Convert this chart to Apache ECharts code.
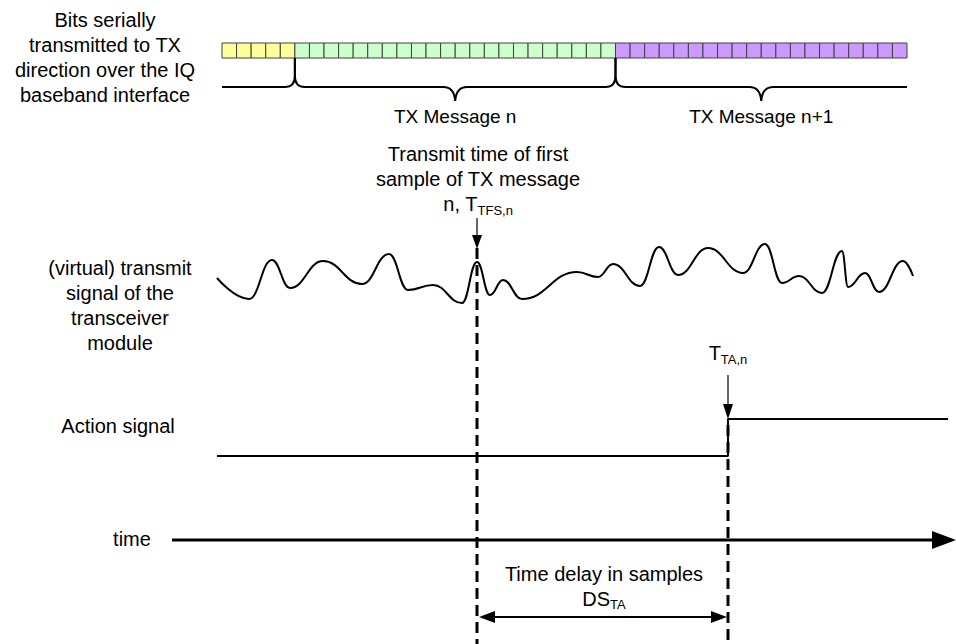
<!DOCTYPE html>
<html>
<head>
<meta charset="utf-8">
<script src="https://cdn.jsdelivr.net/npm/echarts/dist/echarts.min.js"></script>
<style>
html,body{margin:0;padding:0;background:#ffffff;}
#chart{width:956px;height:644px;}
</style>
</head>
<body>
<div id="chart"></div>
<script>
// ---------------- data ----------------
// Bit groups transmitted over the IQ baseband interface
const bitGroupNames = ['', 'TX Message n', 'TX Message n+1'];
const bitCounts = [5, 22, 20];
const bitTrainSpan = [222, 907];          // time span covered by the bit train

// (virtual) transmit signal, sample times and amplitudes
const waveX = [217, 249, 272, 290, 323, 362, 389, 408, 433, 462, 477, 490, 503, 522, 577, 598, 613, 640, 659, 678, 708, 743, 765, 782, 799, 822, 842, 848, 865, 879, 903, 913];
const waveY = [278, 299, 260, 288, 261, 284, 254, 290, 285, 303, 262, 295, 280, 299, 272, 277, 264, 286, 247, 275, 248, 273, 244, 283, 276, 293, 251, 287, 273, 292, 261, 276];

// Action signal (step at T_TA,n)
const actionX = [217, 728, 728, 948];
const actionY = [456, 456, 419, 419];

// Key time instants
const tTFS = 477;   // T_TFS,n
const tTA = 728;    // T_TA,n
const timeAxisSpan = [172, 956];

// ---------------- helpers ----------------
const FONT = '"Liberation Sans", Arial, Helvetica, sans-serif';
const bitColors = ['#FFFF99', '#CCFFCC', '#CC99FF'];

const nBits = bitCounts.reduce((a, b) => a + b, 0);
const cellW = (bitTrainSpan[1] - bitTrainSpan[0]) / nBits;
const bitCells = [];
bitCounts.forEach((n, g) => { for (let k = 0; k < n; k++) bitCells.push([bitTrainSpan[0] + bitCells.length * cellW, g]); });

const groupSpans = [];
let acc = 0;
bitCounts.forEach((n, g) => {
  groupSpans.push([bitTrainSpan[0] + acc * cellW, bitTrainSpan[0] + (acc + n) * cellW, g]);
  acc += n;
});

function arrowSeries(name, rows, opt) {
  return {
    name: name,
    type: 'custom',
    coordinateSystem: 'cartesian2d',
    silent: true,
    z: opt.z || 5,
    data: rows,
    renderItem: function (params, api) {
      const a = api.coord([api.value(0), api.value(1)]);
      const b = api.coord([api.value(2), api.value(3)]);
      const dx = b[0] - a[0], dy = b[1] - a[1];
      const L = Math.sqrt(dx * dx + dy * dy);
      const ux = dx / L, uy = dy / L, nx = -uy, ny = ux;
      const children = [];
      const head = function (tip, dir) {
        const bx = tip[0] - dir[0] * opt.headLen, by = tip[1] - dir[1] * opt.headLen;
        return {
          type: 'polygon',
          shape: { points: [[tip[0], tip[1]], [bx + nx * opt.headHalf, by + ny * opt.headHalf], [bx - nx * opt.headHalf, by - ny * opt.headHalf]] },
          style: { fill: '#000' }
        };
      };
      const s = opt.both ? [a[0] + ux * opt.headLen * 0.8, a[1] + uy * opt.headLen * 0.8] : a;
      const e = [b[0] - ux * opt.headLen * 0.8, b[1] - uy * opt.headLen * 0.8];
      children.push({ type: 'line', shape: { x1: s[0], y1: s[1], x2: e[0], y2: e[1] }, style: { stroke: '#000', lineWidth: opt.width } });
      children.push(head(b, [ux, uy]));
      if (opt.both) children.push(head(a, [-ux, -uy]));
      return { type: 'group', children: children };
    }
  };
}

const chart = echarts.init(document.getElementById('chart'), null, { renderer: 'svg', width: 956, height: 644 });

const textStyle = function (text, x, y, extra) {
  return Object.assign({
    type: 'text', x: x, y: y, silent: true,
    style: Object.assign({
      text: text, fontFamily: FONT, fontSize: 20, fill: '#000',
      align: 'center', verticalAlign: 'middle', lineHeight: 25
    }, extra || {})
  });
};
const subRich = { sub: { fontFamily: FONT, fontSize: 13, fill: '#000', verticalAlign: 'bottom', lineHeight: 21 } };

const option = {
  animation: false,
  backgroundColor: '#ffffff',
  grid: { left: 0, right: 0, top: 0, bottom: 0 },
  xAxis: { type: 'value', min: 0, max: 956, show: false },
  yAxis: { type: 'value', min: 0, max: 644, inverse: true, show: false },
  graphic: [
    textStyle('Bits serially\ntransmitted to TX\ndirection over the IQ\nbaseband interface', 105, 57),
    textStyle('Transmit time of first\nsample of TX message\nn, T{sub|TFS,n}', 478, 179, { rich: subRich }),
    textStyle('(virtual) transmit\nsignal of the\ntransceiver\nmodule', 120, 305),
    textStyle('T{sub|TA,n}', 728, 353, { rich: subRich }),
    textStyle('Action signal', 118, 426),
    textStyle('time', 132, 539),
    textStyle('Time delay in samples\nDS{sub|TA}', 604, 586, { rich: subRich })
  ],
  series: [
    {
      name: 'Bits',
      type: 'custom',
      coordinateSystem: 'cartesian2d',
      silent: true,
      data: bitCells,
      renderItem: function (params, api) {
        const x = api.value(0), g = api.value(1);
        const p0 = api.coord([x, 43]);
        const p1 = api.coord([x + cellW, 58]);
        return {
          type: 'rect',
          shape: { x: p0[0], y: p0[1], width: p1[0] - p0[0], height: p1[1] - p0[1] },
          style: { fill: bitColors[g], stroke: '#404040', lineWidth: 1 }
        };
      }
    },
    {
      name: 'Braces',
      type: 'custom',
      coordinateSystem: 'cartesian2d',
      silent: true,
      data: groupSpans,
      renderItem: function (params, api) {
        const x0 = api.value(0), x1 = api.value(1), g = api.value(2);
        const last = g === bitCounts.length - 1;
        const a = api.coord([x0, 58]), b = api.coord([x1, 58]);
        const yl = api.coord([0, 87])[1], yc = api.coord([0, 101])[1], yk = api.coord([0, 76])[1];
        const m = (a[0] + b[0]) / 2;
        let d = '';
        if (g > 0) {
          d += 'M' + a[0] + ' ' + a[1] + ' L' + a[0] + ' ' + yk + ' Q' + a[0] + ' ' + yl + ' ' + (a[0] + 10) + ' ' + yl;
        } else {
          d += 'M' + a[0] + ' ' + yl;
        }
        if (bitGroupNames[g]) {
          d += ' L' + (m - 12) + ' ' + yl + ' Q' + (m - 1) + ' ' + yl + ' ' + m + ' ' + yc +
               ' Q' + (m + 1) + ' ' + yl + ' ' + (m + 12) + ' ' + yl;
        }
        if (!last) {
          d += ' L' + (b[0] - 10) + ' ' + yl + ' Q' + b[0] + ' ' + yl + ' ' + b[0] + ' ' + yk + ' L' + b[0] + ' ' + b[1];
        } else {
          d += ' L' + b[0] + ' ' + yl;
        }
        const children = [{ type: 'path', shape: { pathData: d }, style: { stroke: '#000', lineWidth: 2, fill: 'none' } }];
        if (bitGroupNames[g]) {
          children.push({
            type: 'text',
            style: { text: bitGroupNames[g], x: m, y: yc + 15, fontFamily: FONT, fontSize: 19, fill: '#000', align: 'center', verticalAlign: 'middle' }
          });
        }
        return { type: 'group', children: children };
      }
    },
    {
      name: 'Transmit signal',
      type: 'line',
      data: waveX.map((x, i) => [x, waveY[i]]),
      smooth: 0.45,
      smoothMonotone: 'x',
      showSymbol: false,
      symbol: 'none',
      silent: true,
      lineStyle: { color: '#000', width: 2 }
    },
    {
      name: 'Action signal',
      type: 'line',
      data: actionX.map((x, i) => [x, actionY[i]]),
      showSymbol: false,
      symbol: 'none',
      silent: true,
      lineStyle: { color: '#000', width: 2 }
    },
    {
      name: 'T_TFS marker',
      type: 'line',
      data: [[tTFS, 248], [tTFS, 644]],
      showSymbol: false, symbol: 'none', silent: true, z: 4,
      lineStyle: { color: '#000', width: 3, type: [11, 6] }
    },
    {
      name: 'T_TA marker',
      type: 'line',
      data: [[tTA, 425], [tTA, 644]],
      showSymbol: false, symbol: 'none', silent: true, z: 4,
      lineStyle: { color: '#000', width: 3, type: [11, 6] }
    },
    arrowSeries('T_TFS arrow', [[tTFS, 218, tTFS, 249]], { width: 1.2, headLen: 14, headHalf: 5 }),
    arrowSeries('T_TA arrow', [[tTA, 375, tTA, 419]], { width: 1.2, headLen: 15, headHalf: 5 }),
    arrowSeries('Time axis', [[timeAxisSpan[0], 540, timeAxisSpan[1], 540]], { width: 3, headLen: 24, headHalf: 9 }),
    arrowSeries('Delay', [[tTFS + 2, 617, tTA - 1, 617]], { width: 1.8, headLen: 16, headHalf: 6, both: true })
  ]
};
chart.setOption(option);
</script>
</body>
</html>
